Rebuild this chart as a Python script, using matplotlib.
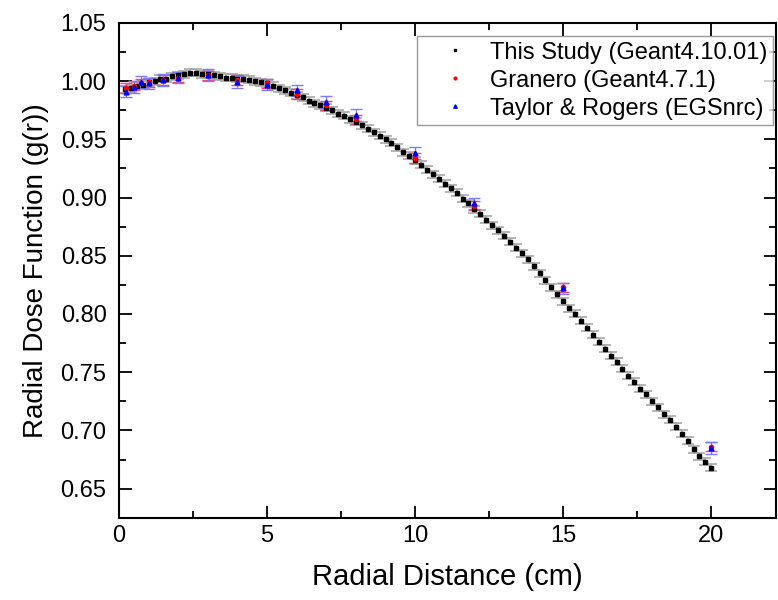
import matplotlib.pyplot as plt
import numpy as np
from matplotlib.ticker import MultipleLocator
from matplotlib.lines import Line2D

plt.rcParams['font.family'] = ['Liberation Sans', 'DejaVu Sans']

# This Study (Geant4.10.01), every 0.2 cm
study_r = np.round(np.arange(1, 101) * 0.2, 1)
study_g = [0.993, 0.994, 0.996, 0.997, 0.999, 1.000, 1.002, 1.002, 1.004, 1.005,
           1.006, 1.007, 1.007, 1.006, 1.006, 1.005, 1.004, 1.003, 1.003, 1.002,
           1.002, 1.001, 1.000, 0.999, 0.998, 0.996, 0.994, 0.992, 0.990, 0.988,
           0.986, 0.983, 0.981, 0.979, 0.977, 0.975, 0.972, 0.970, 0.967, 0.965,
           0.962, 0.959, 0.956, 0.953, 0.950, 0.947, 0.943, 0.939, 0.936, 0.932,
           0.928, 0.924, 0.920, 0.916, 0.912, 0.908, 0.904, 0.899, 0.895, 0.890,
           0.886, 0.881, 0.876, 0.872, 0.867, 0.862, 0.857, 0.852, 0.847, 0.841,
           0.835, 0.829, 0.823, 0.817, 0.811, 0.805, 0.800, 0.794, 0.788, 0.782,
           0.776, 0.770, 0.764, 0.759, 0.753, 0.747, 0.742, 0.736, 0.731, 0.725,
           0.720, 0.714, 0.709, 0.703, 0.697, 0.691, 0.684, 0.678, 0.673, 0.668]
study_err = 0.003

# reference data
ref_r = [0.25, 0.5, 0.75, 1, 1.5, 2, 3, 4, 5, 6, 7, 8, 10, 12, 15, 20]
granero_g = [0.994, 0.996, 0.998, 0.999, 1.001, 1.003, 1.005, 1.001,
             0.998, 0.989, 0.979, 0.967, 0.934, 0.893, 0.823, 0.686]
taylor_g = [0.991, 0.995, 0.999, 0.998, 1.001, 1.003, 1.005, 0.999,
            0.997, 0.992, 0.982, 0.971, 0.938, 0.895, 0.822, 0.685]
granero_err = 0.004
taylor_err = 0.005

labels = ['This Study (Geant4.10.01)', 'Granero (Geant4.7.1)', 'Taylor & Rogers (EGSnrc)']

fig = plt.figure(figsize=(7.78, 6.0), dpi=100)
ax = fig.add_axes([0.153, 0.137, 0.845, 0.825])

ax.errorbar(study_r, study_g, yerr=study_err, fmt='s', color='black', markersize=3.5,
            ecolor='#a8a8a8', elinewidth=1.2, capsize=4, capthick=1.2)
ax.errorbar(ref_r, granero_g, yerr=granero_err, fmt='o', color='red', markersize=3,
            ecolor='#ff4070', elinewidth=0.9, capsize=4.5)
ax.errorbar(ref_r, taylor_g, yerr=taylor_err, fmt='^', color='blue', markersize=3.5,
            ecolor='#7a7aff', elinewidth=0.9, capsize=4.5)

ax.set_xlim(0, 22.2)
ax.set_ylim(0.625, 1.05)
ax.xaxis.set_major_locator(MultipleLocator(5))
ax.xaxis.set_minor_locator(MultipleLocator(2.5))
ax.yaxis.set_major_locator(MultipleLocator(0.05))
ax.yaxis.set_minor_locator(MultipleLocator(0.025))
ax.yaxis.set_major_formatter(plt.FormatStrFormatter('%.2f'))

ax.tick_params(which='both', direction='in', top=True, right=True, labelsize=17, width=1.3)
ax.tick_params(which='major', length=9)
ax.tick_params(which='minor', length=5)
ax.tick_params(axis='x', pad=5)
ax.tick_params(axis='y', pad=9)
for s in ax.spines.values():
    s.set_linewidth(1.5)

ax.set_xlabel('Radial Distance (cm)', fontsize=21, labelpad=12)
ax.set_ylabel('Radial Dose Function (g(r))', fontsize=20, labelpad=8)

handles = [Line2D([], [], ls='none', marker='s', color='black', markersize=2),
           Line2D([], [], ls='none', marker='o', color='red', markersize=2),
           Line2D([], [], ls='none', marker='^', color='blue', markersize=2.5)]
leg = ax.legend(handles, labels, loc='upper right', bbox_to_anchor=(0.9954, 0.9737),
                borderaxespad=0, fontsize=17, fancybox=False, edgecolor='#808080',
                handlelength=2.7, handletextpad=0.15, labelspacing=0.25, borderpad=0.25)
leg.get_frame().set_linewidth(1.0)

plt.savefig('out.png', dpi=100)
plt.close()
